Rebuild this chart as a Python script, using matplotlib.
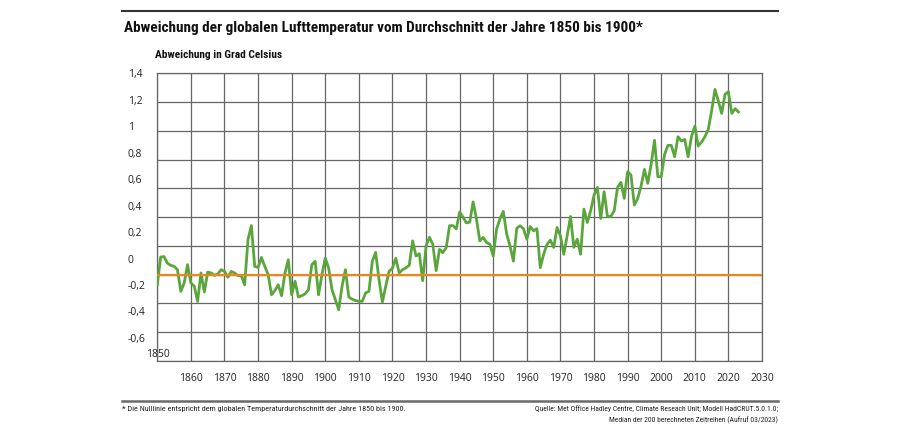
import numpy as np
import matplotlib
matplotlib.use("Agg")
import matplotlib.pyplot as plt
from matplotlib import font_manager
from matplotlib.lines import Line2D

# ---------------- data ----------------
start_year = 1850
anomaly = [
    -0.07, 0.123, 0.126, 0.08, 0.065, 0.058, 0.035, -0.116, -0.058, 0.07,        # 1850-59
    -0.058, -0.08, -0.186, 0.012, -0.12, 0.018, 0.012, -0.005, 0.005, 0.035,     # 1860-69
    0.023, -0.018, 0.023, 0.012, -0.007, -0.007, -0.07, 0.244, 0.342, 0.058,     # 1870-79
    0.05, 0.12, 0.058, 0.0, -0.14, -0.11, -0.07, -0.146, 0.012, 0.104,           # 1880-89
    -0.14, -0.046, -0.155, -0.146, -0.134, -0.104, 0.07, 0.093, -0.14, 0.0,      # 1890-99
    0.116, 0.046, -0.104, -0.174, -0.244, -0.08, 0.035, -0.155, -0.17, -0.18,    # 1900-09
    -0.185, -0.185, -0.127, -0.116, 0.093, 0.155, -0.035, -0.19, -0.08, 0.023,   # 1910-19
    0.046, 0.114, 0.012, 0.035, 0.047, 0.066, 0.235, 0.13, 0.146, -0.042,        # 1920-29
    0.2, 0.26, 0.212, 0.028, 0.176, 0.153, 0.188, 0.341, 0.341, 0.318,           # 1930-39
    0.435, 0.40, 0.36, 0.365, 0.506, 0.388, 0.235, 0.259, 0.224, 0.212,          # 1940-49
    0.129, 0.318, 0.388, 0.44, 0.282, 0.2, 0.094, 0.323, 0.34, 0.32,             # 1950-59
    0.247, 0.335, 0.305, 0.32, 0.049, 0.142, 0.21, 0.24, 0.19, 0.328,            # 1960-69
    0.27, 0.142, 0.27, 0.405, 0.19, 0.247, 0.142, 0.456, 0.363, 0.444,           # 1970-79
    0.553, 0.607, 0.39, 0.577, 0.405, 0.405, 0.444, 0.607, 0.642, 0.53,          # 1980-89
    0.716, 0.693, 0.484, 0.53, 0.616, 0.732, 0.635, 0.767, 0.934, 0.681,         # 1990-99
    0.681, 0.836, 0.899, 0.899, 0.82, 0.959, 0.929, 0.94, 0.82, 0.959,           # 2000-09
    1.033, 0.894, 0.922, 0.959, 1.01, 1.138, 1.288, 1.207, 1.121, 1.254,         # 2010-19
    1.272, 1.121, 1.154, 1.131,                                                  # 2020-23
]
years = np.arange(start_year, start_year + len(anomaly))

x_ticks = list(range(1860, 2031, 10))
x_tick_labels = [str(v) for v in x_ticks]
y_grid = [-0.6, -0.4, -0.2, 0.0, 0.2, 0.4, 0.6, 0.8, 1.0, 1.2, 1.4]
y_tick_labels = ["1,4", "1,2", "1", "0,8", "0,6", "0,4", "0,2", "0", "-0,2", "-0,4", "-0,6"]
corner_label = "1850"

title = "Abweichung der globalen Lufttemperatur vom Durchschnitt der Jahre 1850 bis 1900*"
subtitle = "Abweichung in Grad Celsius"
footnote = "* Die Nulllinie entspricht dem globalen Temperaturdurchschnitt der Jahre 1850 bis 1900."
source1 = "Quelle: Met Office Hadley Centre, Climate Reseach Unit; Modell HadCRUT.5.0.1.0;"
source2 = "Median der 200 berechneten Zeitreihen (Aufruf 03/2023)"

# ---------------- fonts ----------------
def pick(cands):
    for c in cands:
        try:
            font_manager.findfont(font_manager.FontProperties(family=c), fallback_to_default=False)
            return c
        except Exception:
            pass
    return "DejaVu Sans"

narrow = pick(["Liberation Sans Narrow", "DejaVu Sans Condensed", "Roboto Condensed",
               "Open Sans Condensed", "Roboto", "Liberation Sans"])
regular = pick(["Open Sans", "Noto Sans", "DejaVu Sans"])

GREEN = "#5BA63C"
ORANGE = "#E8891E"
GRID = "#666666"

W, H = 900, 435
fig = plt.figure(figsize=(W / 100, H / 100), dpi=100)
fig.patch.set_facecolor("white")

def fx(px):
    return px / W

def fy(py):
    return 1 - py / H

left, right, top, bottom = 157.3, 762.0, 74.3, 362.0
ax = fig.add_axes([fx(left), fy(bottom), (right - left) / W, (bottom - top) / H])
ax.set_xlim(1850, 2030)
ax.set_ylim(-0.6, 1.4)
ax.set_xticks([1850] + x_ticks)
ax.set_xticklabels([""] + x_tick_labels, fontfamily=regular, fontsize=7.5, color="#222222")
ax.set_yticks(y_grid)
ax.set_yticklabels([])
ax.tick_params(length=0, pad=8)
ax.grid(True, color=GRID, lw=0.9)
ax.set_axisbelow(True)
for s in ax.spines.values():
    s.set_color(GRID)
    s.set_linewidth(0.9)

ax.plot(years, anomaly, color=GREEN, lw=2.0, solid_joinstyle="round", zorder=3)
ax.axhline(0, color=ORANGE, lw=1.6, zorder=4)

# y labels (as drawn in the original, evenly spaced)
for i, lab in enumerate(y_tick_labels):
    fig.text(fx(128), fy(75 + i * 26.43), lab, ha="left", va="center",
             fontfamily=regular, fontsize=7.5, color="#222222")
fig.text(fx(157.5), fy(355), corner_label, ha="center", va="center",
         fontfamily=regular, fontsize=7.5, color="#222222")

# rules
fig.add_artist(Line2D([fx(122), fx(778)], [fy(12), fy(12)], color="#333333", lw=1.5))
fig.add_artist(Line2D([fx(122), fx(778)], [fy(402), fy(402)], color="#6a6a6a", lw=1.8))

renderer = fig.canvas.get_renderer()

def fit(t, width):
    w = t.get_window_extent(renderer).width
    t.set_fontsize(t.get_fontsize() * width / w)

t1 = fig.text(fx(124), fy(28), title, ha="left", va="center", fontfamily=narrow,
              fontweight="bold", fontsize=12, color="#111111")
fit(t1, 521)
t2 = fig.text(fx(155), fy(55), subtitle, ha="left", va="center", fontfamily=narrow,
              fontweight="bold", fontsize=8, color="#111111")
fit(t2, 128)
t3 = fig.text(fx(122), fy(409), footnote, ha="left", va="center", fontfamily=narrow,
              fontsize=6, color="#222222")
fit(t3, 285)
t4 = fig.text(fx(778), fy(409), source1, ha="right", va="center", fontfamily=narrow,
              fontsize=6, color="#222222")
fit(t4, 247)
t5 = fig.text(fx(778), fy(420), source2, ha="right", va="center", fontfamily=narrow,
              fontsize=t4.get_fontsize(), color="#222222")

fig.savefig("out.png", dpi=100, facecolor="white")
